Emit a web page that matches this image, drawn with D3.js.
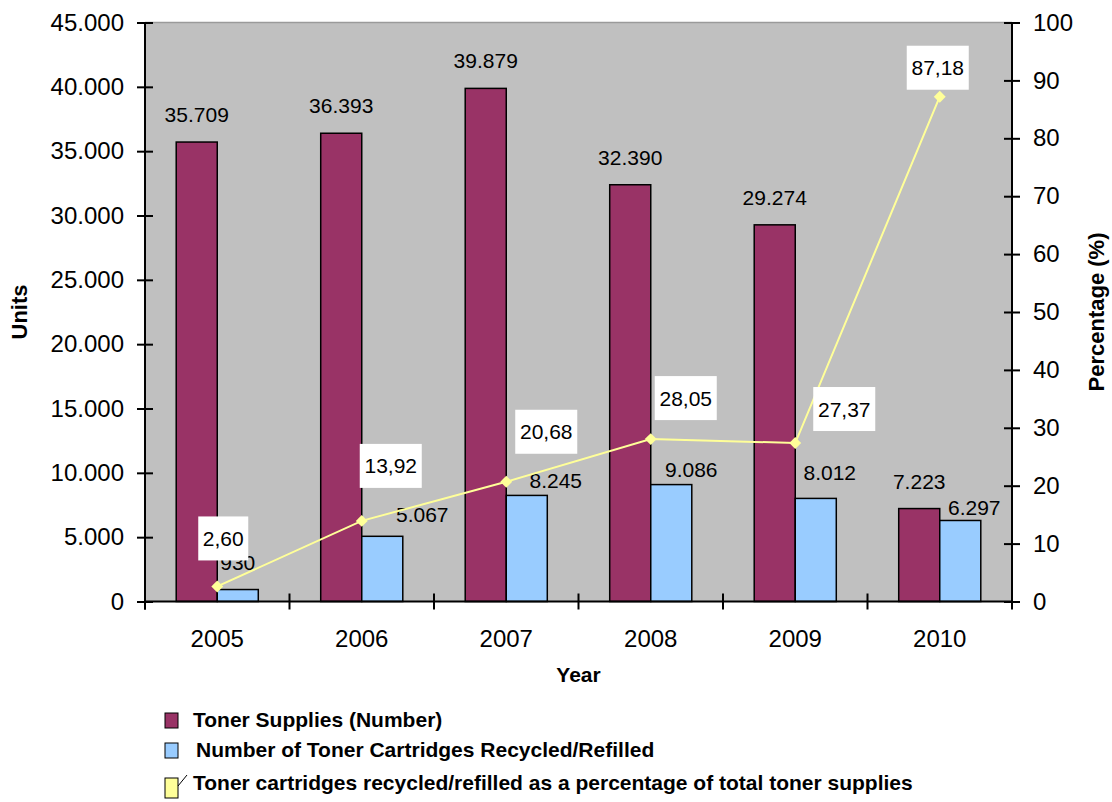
<!DOCTYPE html>
<html>
<head>
<meta charset="utf-8">
<script src="https://cdn.jsdelivr.net/npm/d3@7"></script>
<style>
  body { margin: 0; background: #fff; }
  svg { display: block; font-family: "Liberation Sans", Arial, sans-serif; }
</style>
</head>
<body>
<svg id="chart" width="1112" height="802"></svg>
<script>
// Data
const years = ['2005', '2006', '2007', '2008', '2009', '2010'];
const tonerSupplies = [35709, 36393, 39879, 32390, 29274, 7223];
const recycled = [930, 5067, 8245, 9086, 8012, 6297];
const percentRecycled = [2.60, 13.92, 20.68, 28.05, 27.37, 87.18];

const unitTicks = d3.range(0, 45001, 5000);
const pctTicks = d3.range(0, 101, 10);

const legendLabels = [
  'Toner Supplies (Number)',
  'Number of Toner Cartridges Recycled/Refilled',
  'Toner cartridges recycled/refilled as a percentage of total toner supplies'
];

// hand-placed label nudges from the original (dx, dy)
const recycledNudge = [[0, 0], [40, 6], [29, 13], [20, 12], [14, 2], [14, 15]];
const pctBoxNudge = [[6, -48], [29, -55], [40, -50], [35, -41], [49, -34], [-2, -29]];

// european number style: 35.709 and 2,60
const loc = d3.formatLocale({decimal: ',', thousands: '.', grouping: [3], currency: ['', '']});
const fmtUnits = loc.format(',d');
const fmtPct = loc.format('.2f');

const maroon = '#993366', blue = '#99ccff', yellow = '#ffff99';

const svg = d3.select('#chart');
const pLeft = 145, pRight = 1012, pTop = 22.5, pBottom = 601.5;

const x = d3.scaleBand().domain(years).range([pLeft, pRight]);
const yL = d3.scaleLinear().domain([0, 45000]).range([pBottom, pTop]);
const yR = d3.scaleLinear().domain([0, 100]).range([pBottom, pTop]);
const barW = x.bandwidth() * 0.284;
const mid = d => x(d) + x.bandwidth() / 2;

// plot area
svg.append('rect')
  .attr('x', pLeft).attr('y', pTop)
  .attr('width', pRight - pLeft).attr('height', pBottom - pTop)
  .attr('fill', '#c0c0c0');
svg.append('line')
  .attr('x1', pLeft).attr('x2', pRight).attr('y1', pTop).attr('y2', pTop)
  .attr('stroke', '#9a9a9a').attr('stroke-width', 1.5);

// bars
svg.append('g').selectAll('rect')
  .data(years)
  .join('rect')
  .attr('x', (d) => mid(d) - barW)
  .attr('y', (d, i) => yL(tonerSupplies[i]))
  .attr('width', barW)
  .attr('height', (d, i) => pBottom - yL(tonerSupplies[i]))
  .attr('fill', maroon).attr('stroke', '#000').attr('stroke-width', 1.5);

svg.append('g').selectAll('rect')
  .data(years)
  .join('rect')
  .attr('x', (d) => mid(d))
  .attr('y', (d, i) => yL(recycled[i]))
  .attr('width', barW)
  .attr('height', (d, i) => pBottom - yL(recycled[i]))
  .attr('fill', blue).attr('stroke', '#000').attr('stroke-width', 1.5);

// bar value labels
svg.append('g').selectAll('text')
  .data(years)
  .join('text')
  .attr('x', (d) => mid(d) - barW / 2)
  .attr('y', (d, i) => yL(tonerSupplies[i]) - 20)
  .attr('text-anchor', 'middle')
  .attr('font-size', 21)
  .text((d, i) => fmtUnits(tonerSupplies[i]));

svg.append('g').selectAll('text')
  .data(years)
  .join('text')
  .attr('x', (d, i) => mid(d) + barW / 2 + recycledNudge[i][0])
  .attr('y', (d, i) => yL(recycled[i]) - 20 + recycledNudge[i][1])
  .attr('text-anchor', 'middle')
  .attr('font-size', 21)
  .text((d, i) => fmtUnits(recycled[i]));

// percentage line
const line = d3.line()
  .x((d, i) => mid(years[i]))
  .y(d => yR(d));

svg.append('path')
  .datum(percentRecycled)
  .attr('d', line)
  .attr('fill', 'none')
  .attr('stroke', yellow)
  .attr('stroke-width', 2);

svg.append('g').selectAll('path')
  .data(percentRecycled)
  .join('path')
  .attr('d', d3.symbol(d3.symbolDiamond2, 90))
  .attr('transform', (d, i) => `translate(${mid(years[i])},${yR(d)})`)
  .attr('fill', yellow);

// percentage labels in white boxes
const pctLab = svg.append('g').selectAll('g')
  .data(percentRecycled)
  .join('g')
  .attr('transform', (d, i) => `translate(${mid(years[i]) + pctBoxNudge[i][0]},${yR(d) + pctBoxNudge[i][1]})`);
pctLab.append('rect')
  .attr('x', (d) => d < 10 ? -25 : -31)
  .attr('y', -22)
  .attr('width', (d) => d < 10 ? 50 : 62)
  .attr('height', 44)
  .attr('fill', '#fff');
pctLab.append('text')
  .attr('y', 7.5)
  .attr('text-anchor', 'middle')
  .attr('font-size', 21)
  .text(d => fmtPct(d));

// axes
const axL = svg.append('g')
  .attr('transform', `translate(${pLeft},0)`)
  .call(d3.axisLeft(yL).tickValues(unitTicks).tickFormat(fmtUnits).tickSize(8).tickPadding(13));
const axR = svg.append('g')
  .attr('transform', `translate(${pRight},0)`)
  .call(d3.axisRight(yR).tickValues(pctTicks).tickSize(8).tickPadding(13));
[axL, axR].forEach(ax => {
  ax.select('.domain').remove();
  ax.selectAll('.tick line').attr('x1', function () { return -d3.select(this).attr('x2'); })
    .attr('stroke-width', 2);
  ax.selectAll('text').attr('font-size', 24).attr('font-family', 'Liberation Sans, Arial, sans-serif').attr('fill', '#000');
});
const axB = svg.append('g')
  .attr('transform', `translate(0,${pBottom})`)
  .call(d3.axisBottom(x).tickSize(0).tickPadding(28));
axB.select('.domain').remove();
axB.selectAll('text').attr('font-size', 24).attr('font-family', 'Liberation Sans, Arial, sans-serif').attr('fill', '#000');

// category boundary ticks (cross style)
svg.append('g').selectAll('line')
  .data(years)
  .join('line')
  .attr('x1', d => x(d)).attr('x2', d => x(d))
  .attr('y1', pBottom - 8).attr('y2', pBottom + 8)
  .attr('stroke', '#000').attr('stroke-width', 2);

// axis lines
svg.append('line').attr('x1', pLeft).attr('x2', pLeft).attr('y1', pTop).attr('y2', pBottom + 8)
  .attr('stroke', '#000').attr('stroke-width', 2);
svg.append('line').attr('x1', pRight).attr('x2', pRight).attr('y1', pTop).attr('y2', pBottom + 8)
  .attr('stroke', '#000').attr('stroke-width', 2);
svg.append('line').attr('x1', pLeft).attr('x2', pRight).attr('y1', pBottom).attr('y2', pBottom)
  .attr('stroke', '#000').attr('stroke-width', 2);

// axis titles
svg.append('text')
  .attr('transform', `translate(27,${(pTop + pBottom) / 2}) rotate(-90)`)
  .attr('text-anchor', 'middle').attr('font-size', 22).attr('font-weight', 'bold')
  .text('Units');
svg.append('text')
  .attr('transform', `translate(1104,${(pTop + pBottom) / 2}) rotate(-90)`)
  .attr('text-anchor', 'middle').attr('font-size', 22).attr('font-weight', 'bold')
  .text('Percentage (%)');
svg.append('text')
  .attr('x', (pLeft + pRight) / 2).attr('y', 682)
  .attr('text-anchor', 'middle').attr('font-size', 21).attr('font-weight', 'bold')
  .text('Year');

// legend
const legend = svg.append('g').attr('transform', 'translate(165,713)');
const legendFill = [maroon, blue, yellow];
const rowY = [0, 30, 63];
legend.selectAll('rect')
  .data(legendLabels)
  .join('rect')
  .attr('x', 0).attr('y', (d, i) => rowY[i] + (i === 2 ? 2 : 0))
  .attr('width', 13).attr('height', (d, i) => i === 2 ? 20 : 15)
  .attr('fill', (d, i) => legendFill[i])
  .attr('stroke', '#000').attr('stroke-width', 1);
legend.append('line')
  .attr('x1', 13).attr('y1', rowY[2] + 10).attr('x2', 22).attr('y2', rowY[2] - 1)
  .attr('stroke', '#000').attr('stroke-width', 1);
legend.selectAll('text')
  .data(legendLabels)
  .join('text')
  .attr('x', (d, i) => i === 1 ? 31 : 28)
  .attr('y', (d, i) => rowY[i] + 14)
  .attr('font-size', 21).attr('font-weight', 'bold')
  .text(d => d);
</script>
</body>
</html>
